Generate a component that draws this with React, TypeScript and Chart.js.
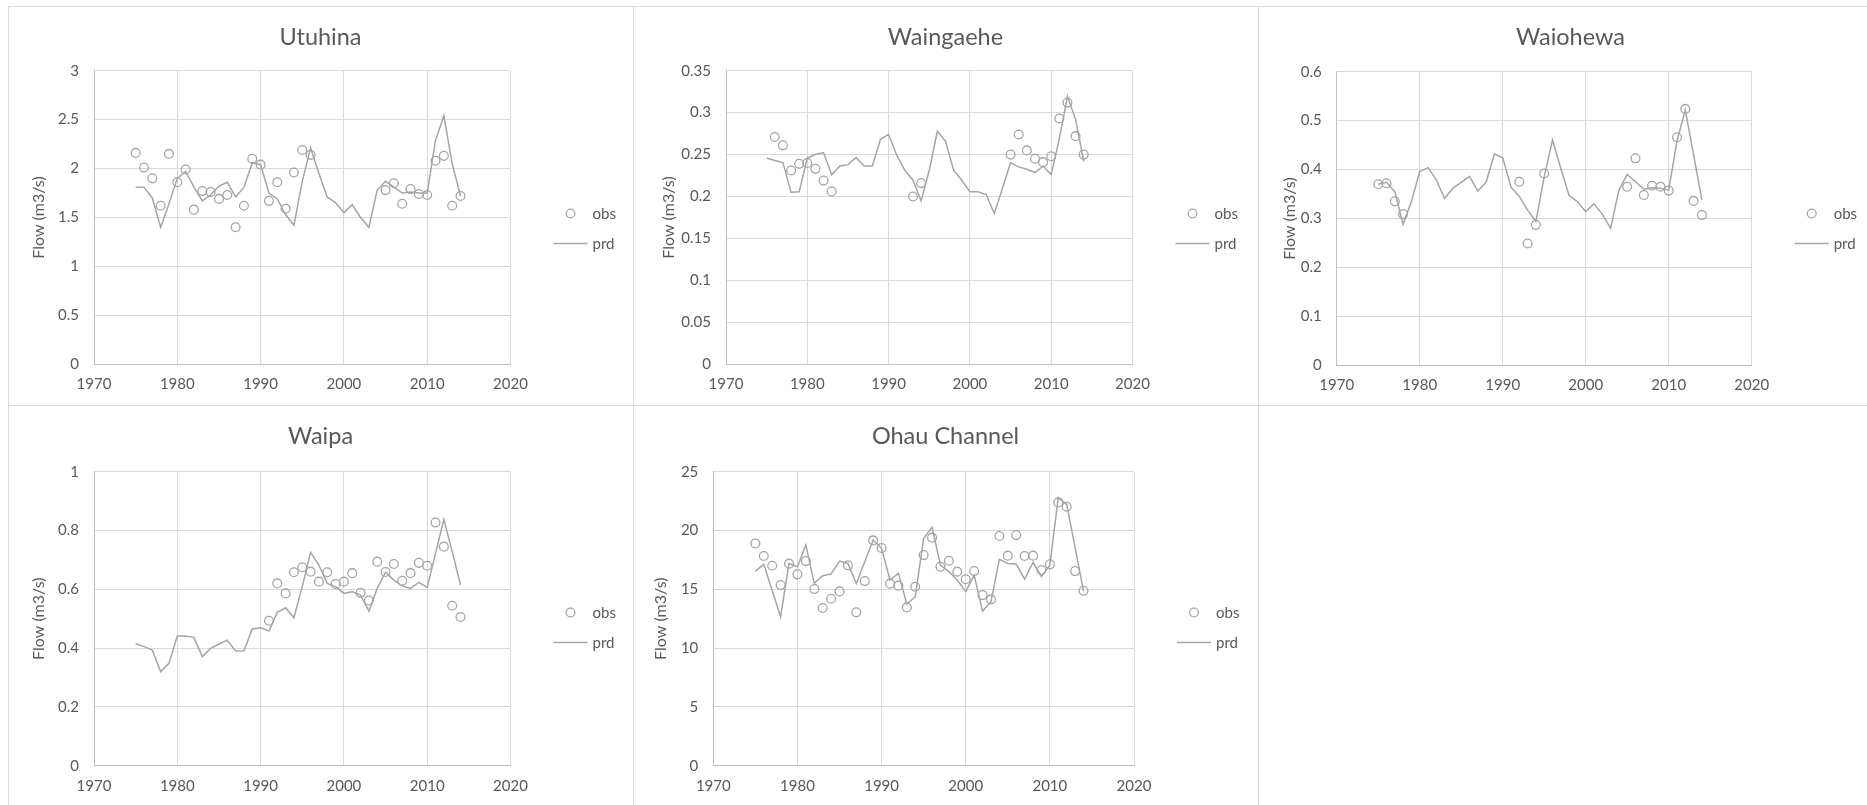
import React, { useEffect, useRef } from "react";
import { Chart, registerables } from "chart.js";

Chart.register(...registerables);

// ---------- data ----------
const YEARS = [
  1975, 1976, 1977, 1978, 1979, 1980, 1981, 1982, 1983, 1984,
  1985, 1986, 1987, 1988, 1989, 1990, 1991, 1992, 1993, 1994,
  1995, 1996, 1997, 1998, 1999, 2000, 2001, 2002, 2003, 2004,
  2005, 2006, 2007, 2008, 2009, 2010, 2011, 2012, 2013, 2014,
];

const UTUHINA_OBS = [
  2.16, 2.01, 1.9, 1.62, 2.15, 1.86, 1.99, 1.58, 1.77, 1.76,
  1.69, 1.73, 1.4, 1.62, 2.1, 2.04, 1.67, 1.86, 1.59, 1.96,
  2.19, 2.14, null, null, null, null, null, null, null, null,
  1.78, 1.85, 1.64, 1.79, 1.74, 1.73, 2.08, 2.13, 1.62, 1.72,
];
const UTUHINA_PRD = [
  1.81, 1.81, 1.7, 1.4, 1.64, 1.9, 1.97, 1.81, 1.67, 1.73,
  1.82, 1.86, 1.71, 1.81, 2.06, 2.04, 1.75, 1.69, 1.53, 1.42,
  1.87, 2.21, 1.95, 1.71, 1.65, 1.55, 1.63, 1.5, 1.4, 1.78,
  1.87, 1.81, 1.75, 1.76, 1.75, 1.75, 2.29, 2.54, 2.05, 1.72,
];

const WAINGAEHE_OBS = [
  null, 0.271, 0.261, 0.231, 0.239, 0.24, 0.233, 0.219, 0.206, null,
  null, null, null, null, null, null, null, null, 0.2, 0.216,
  null, null, null, null, null, null, null, null, null, null,
  0.25, 0.274, 0.255, 0.245, 0.241, 0.248, 0.293, 0.312, 0.272, 0.25,
];
const WAINGAEHE_PRD = [
  0.246, 0.243, 0.2405, 0.2052, 0.2056, 0.246, 0.25, 0.2524, 0.226, 0.2365,
  0.238, 0.2464, 0.2365, 0.2365, 0.2683, 0.2742, 0.2492, 0.2313, 0.2194, 0.1948,
  0.2313, 0.2778, 0.2659, 0.2313, 0.2194, 0.2056, 0.2056, 0.2024, 0.1798, 0.2095,
  0.2401, 0.2353, 0.2325, 0.2286, 0.2361, 0.2262, 0.269, 0.3194, 0.292, 0.242,
];

const WAIOHEWA_OBS = [
  0.37, 0.372, 0.335, 0.309, null, null, null, null, null, null,
  null, null, null, null, null, null, null, 0.375, 0.249, 0.287,
  0.392, null, null, null, null, null, null, null, null, null,
  0.365, 0.423, 0.348, 0.367, 0.365, 0.357, 0.466, 0.524, 0.336, 0.307,
];
const WAIOHEWA_PRD = [
  0.37, 0.374, 0.355, 0.288, 0.3345, 0.396, 0.404, 0.379, 0.341, 0.362,
  0.374, 0.386, 0.356, 0.374, 0.432, 0.424, 0.364, 0.345, 0.317, 0.294,
  0.385, 0.4605, 0.4026, 0.3467, 0.3345, 0.314, 0.33, 0.309, 0.28, 0.358,
  0.39, 0.375, 0.36, 0.363, 0.362, 0.358, 0.4585, 0.522, 0.43, 0.338,
];

const WAIPA_OBS = [
  null, null, null, null, null, null, null, null, null, null,
  null, null, null, null, null, null, 0.493, 0.62, 0.586, 0.658,
  0.675, 0.66, 0.626, 0.658, 0.618, 0.626, 0.655, 0.588, 0.562, 0.694,
  0.659, 0.686, 0.629, 0.655, 0.69, 0.68, 0.827, 0.745, 0.544, 0.506,
];
const WAIPA_PRD = [
  0.415, 0.405, 0.393, 0.32, 0.348, 0.441, 0.441, 0.4365, 0.371, 0.399,
  0.414, 0.427, 0.39, 0.391, 0.465, 0.469, 0.458, 0.5215, 0.537, 0.503,
  0.609, 0.7256, 0.6825, 0.62, 0.609, 0.586, 0.592, 0.58, 0.526, 0.603,
  0.658, 0.6315, 0.612, 0.603, 0.6236, 0.6066, 0.722, 0.838, 0.728, 0.6145,
];

const OHAU_OBS = [
  18.9, 17.83, 17.0, 15.36, 17.18, 16.27, 17.4, 15.02, 13.41, 14.2,
  14.82, 17.04, 13.04, 15.7, 19.16, 18.51, 15.48, 15.31, 13.46, 15.22,
  17.91, 19.39, 16.92, 17.43, 16.5, 15.85, 16.55, 14.51, 14.14, 19.53,
  17.86, 19.61, 17.83, 17.86, 16.64, 17.12, 22.39, 22.02, 16.55, 14.88,
];
const OHAU_PRD = [
  16.55, 17.12, 14.9, 12.67, 17.2, 16.92, 18.76, 15.5, 16.16, 16.3,
  17.4, 17.2, 15.5, 17.35, 19.19, 18.48, 15.79, 16.36, 13.75, 14.37,
  19.33, 20.27, 17.06, 16.5, 15.79, 14.8, 16.21, 13.15, 13.95, 17.55,
  17.2, 17.15, 15.87, 17.29, 16.07, 17.06, 22.79, 22.22, 18.54, 14.85,
];

const PANEL_TITLES = ["Utuhina", "Waingaehe", "Waiohewa", "Waipa", "Ohau Channel"];
const Y_MAXES = [3, 0.35, 0.6, 1, 25];
const Y_STEPS = [0.5, 0.05, 0.1, 0.2, 5];
const X_MIN = 1970;
const X_MAX = 2020;
const X_STEP = 10;
const SERIES_LABELS = ["obs", "prd"];
const Y_TITLE = "Flow (m3/s)";

// ---------- styles ----------
const FONT = "Lato, 'Liberation Sans', sans-serif";
const TEXT = "#595959";
const GRID = "#d9d9d9";
const AXIS = "#bfbfbf";
const SERIES = "#a5a5a5";
const PANEL_BORDER = "#d9d9d9";
const TITLE_SIZE = 23.5;
const TICK_SIZE = 15;
const AXIS_TITLE_SIZE = 16;
const TITLE_BASELINE = 37.5;

type PanelDef = {
  title: string;
  obs: (number | null)[];
  prd: (number | null)[];
  yMax: number;
  yStep: number;
  x: number;
  y: number;
  w: number;
  h: number;
  borders: { t: boolean; r: boolean; b: boolean; l: boolean };
  left: number;
  right: number;
  top: number;
  bottom: number;
  yTitleX: number;
};

const PANELS: PanelDef[] = [
  {
    title: PANEL_TITLES[0], obs: UTUHINA_OBS, prd: UTUHINA_PRD, yMax: Y_MAXES[0], yStep: Y_STEPS[0],
    x: 8, y: 6, w: 626, h: 400, borders: { t: true, r: true, b: true, l: true },
    left: 85, right: 501.5, top: 63.7, bottom: 357.3, yTitleX: 29.5,
  },
  {
    title: PANEL_TITLES[1], obs: WAINGAEHE_OBS, prd: WAINGAEHE_PRD, yMax: Y_MAXES[1], yStep: Y_STEPS[1],
    x: 633, y: 6, w: 626, h: 400, borders: { t: true, r: true, b: true, l: true },
    left: 92, right: 498.5, top: 63.7, bottom: 357.3, yTitleX: 35,
  },
  {
    title: PANEL_TITLES[2], obs: WAIOHEWA_OBS, prd: WAIOHEWA_PRD, yMax: Y_MAXES[2], yStep: Y_STEPS[2],
    x: 1258, y: 6, w: 609, h: 400, borders: { t: true, r: false, b: true, l: true },
    left: 77.7, right: 492.7, top: 64.7, bottom: 358.3, yTitleX: 30.5,
  },
  {
    title: PANEL_TITLES[3], obs: WAIPA_OBS, prd: WAIPA_PRD, yMax: Y_MAXES[3], yStep: Y_STEPS[3],
    x: 8, y: 405, w: 626, h: 400, borders: { t: true, r: true, b: false, l: true },
    left: 85, right: 501.5, top: 65.7, bottom: 359.7, yTitleX: 29.5,
  },
  {
    title: PANEL_TITLES[4], obs: OHAU_OBS, prd: OHAU_PRD, yMax: Y_MAXES[4], yStep: Y_STEPS[4],
    x: 633, y: 405, w: 626, h: 400, borders: { t: true, r: true, b: false, l: true },
    left: 79.3, right: 500, top: 65.7, bottom: 359.7, yTitleX: 27,
  },
];

const X_AXIS_H = 30;

function toPoints(vals: (number | null)[]) {
  const pts: { x: number; y: number }[] = [];
  YEARS.forEach((yr, i) => {
    const v = vals[i];
    if (v !== null && v !== undefined) pts.push({ x: yr, y: v });
  });
  return pts;
}

function PanelChart({ p }: { p: PanelDef }) {
  const ref = useRef<HTMLCanvasElement | null>(null);
  const cw = p.w - (p.borders.l ? 1 : 0) - (p.borders.r ? 1 : 0);
  const ch = p.h - (p.borders.t ? 1 : 0) - (p.borders.b ? 1 : 0);

  useEffect(() => {
    const canvas = ref.current;
    if (!canvas) return;
    const canvasLeftPage = p.x + (p.borders.l ? 1 : 0);
    const titleCenter = p.x + 312.5 - canvasLeftPage;

    const decor = {
      id: "panelDecor",
      afterDraw(chart: any) {
        const ctx = chart.ctx as CanvasRenderingContext2D;
        const ca = chart.chartArea;
        ctx.save();
        ctx.fillStyle = TEXT;
        ctx.font = `${TITLE_SIZE}px ${FONT}`;
        ctx.textAlign = "center";
        ctx.textBaseline = "alphabetic";
        ctx.fillText(p.title, titleCenter, TITLE_BASELINE);
        const cx = ca.right + 60;
        const obsY = 206.5;
        const prdY = 236.5;
        ctx.strokeStyle = SERIES;
        ctx.lineWidth = 1.3;
        ctx.beginPath();
        ctx.arc(cx, obsY, 4.4, 0, Math.PI * 2);
        ctx.stroke();
        ctx.lineWidth = 1.5;
        ctx.beginPath();
        ctx.moveTo(cx - 17, prdY);
        ctx.lineTo(cx + 17, prdY);
        ctx.stroke();
        ctx.font = `${TICK_SIZE}px ${FONT}`;
        ctx.textAlign = "left";
        ctx.fillText(SERIES_LABELS[0], cx + 22, obsY + 5.5);
        ctx.fillText(SERIES_LABELS[1], cx + 22, prdY + 5.5);
        ctx.restore();
      },
    };

    const chart = new Chart(canvas, {
      type: "scatter",
      data: {
        datasets: [
          {
            label: SERIES_LABELS[0],
            data: toPoints(p.obs),
            showLine: false,
            pointStyle: "circle",
            pointRadius: 4.4,
            pointBorderWidth: 1.3,
            borderColor: SERIES,
            pointBorderColor: SERIES,
            backgroundColor: "rgba(0,0,0,0)",
            pointBackgroundColor: "rgba(0,0,0,0)",
          },
          {
            label: SERIES_LABELS[1],
            data: toPoints(p.prd),
            showLine: true,
            pointRadius: 0,
            borderColor: SERIES,
            borderWidth: 1.5,
            tension: 0,
            fill: false,
          },
        ],
      } as any,
      options: {
        animation: false,
        responsive: false,
        maintainAspectRatio: false,
        events: [],
        layout: {
          padding: {
            left: 0,
            right: cw - p.right,
            top: p.top,
            bottom: ch - p.bottom - X_AXIS_H,
          },
        },
        plugins: {
          legend: { display: false },
          tooltip: { enabled: false },
          title: { display: false },
        },
        scales: {
          x: {
            type: "linear",
            min: X_MIN,
            max: X_MAX,
            ticks: {
              stepSize: X_STEP,
              color: TEXT,
              font: { family: FONT, size: TICK_SIZE },
              padding: 11,
              maxRotation: 0,
              callback: (v: any) => String(v),
            },
            grid: { color: GRID, lineWidth: 1, drawTicks: false },
            border: { display: true, color: AXIS, width: 1 },
            afterFit: (s: any) => {
              s.height = X_AXIS_H;
            },
          },
          y: {
            type: "linear",
            min: 0,
            max: p.yMax,
            ticks: {
              stepSize: p.yStep,
              color: TEXT,
              font: { family: FONT, size: TICK_SIZE },
              padding: 15,
              callback: (v: any) => String(Math.round(Number(v) * 1000) / 1000),
            },
            grid: { color: GRID, lineWidth: 1, drawTicks: false },
            border: { display: true, color: AXIS, width: 1 },
            title: {
              display: true,
              text: Y_TITLE,
              color: TEXT,
              font: { family: FONT, size: AXIS_TITLE_SIZE, lineHeight: 1.2 },
              padding: { top: p.yTitleX - (AXIS_TITLE_SIZE * 1.2) / 2, bottom: 0 },
            },
            afterFit: (s: any) => {
              s.width = p.left;
            },
          },
        },
      } as any,
      plugins: [decor],
    });
    return () => chart.destroy();
  }, []);

  return (
    <div
      style={{
        position: "absolute",
        left: p.x,
        top: p.y,
        width: p.w,
        height: p.h,
        boxSizing: "border-box",
        background: "#ffffff",
        borderTop: p.borders.t ? `1px solid ${PANEL_BORDER}` : "none",
        borderRight: p.borders.r ? `1px solid ${PANEL_BORDER}` : "none",
        borderBottom: p.borders.b ? `1px solid ${PANEL_BORDER}` : "none",
        borderLeft: p.borders.l ? `1px solid ${PANEL_BORDER}` : "none",
      }}
    >
      <canvas ref={ref} width={cw} height={ch} style={{ display: "block", width: cw, height: ch }} />
    </div>
  );
}

export default function App() {
  return (
    <div style={{ position: "absolute", left: 0, top: 0, width: 1867, height: 805, overflow: "hidden", background: "#ffffff" }}>
      {PANELS.map((p) => (
        <PanelChart key={p.title} p={p} />
      ))}
    </div>
  );
}
